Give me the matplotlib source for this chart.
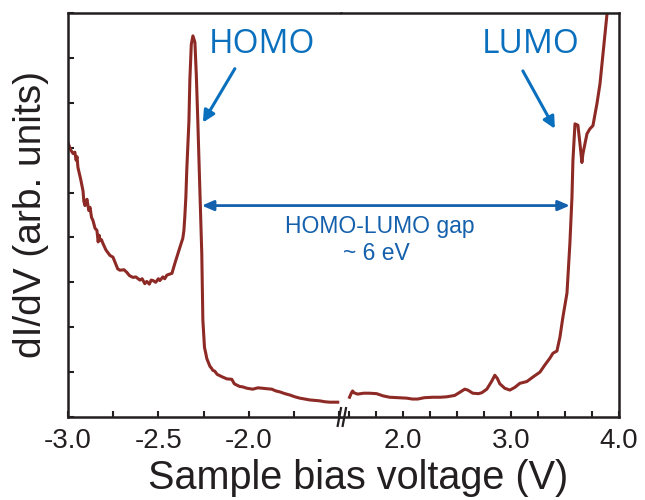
import numpy as np
import matplotlib
matplotlib.use("Agg")
import matplotlib.pyplot as plt
from matplotlib.ticker import MultipleLocator, NullFormatter

# dI/dV spectrum, negative bias branch (V, arb. units)
v_neg = [-3.000, -2.985, -2.972, -2.962, -2.955, -2.950, -2.945, -2.930, -2.917,
         -2.912, -2.906, -2.895, -2.885, -2.878, -2.870, -2.862, -2.850, -2.840,
         -2.833, -2.828, -2.823, -2.815, -2.807, -2.790, -2.768, -2.751, -2.740,
         -2.725, -2.713, -2.690, -2.674, -2.660, -2.641, -2.625, -2.602, -2.590,
         -2.575, -2.564, -2.550, -2.540, -2.530, -2.515, -2.500, -2.492, -2.475,
         -2.465, -2.453, -2.440, -2.425, -2.409, -2.395, -2.381, -2.365, -2.359,
         -2.354, -2.348, -2.343, -2.331, -2.326, -2.318, -2.309, -2.298, -2.290,
         -2.282, -2.271, -2.260, -2.254, -2.245, -2.238, -2.232, -2.215, -2.205,
         -2.199, -2.188, -2.175, -2.160, -2.145, -2.133, -2.122, -2.094, -2.080,
         -2.066, -2.050, -2.033, -2.010, -1.978, -1.950, -1.923, -1.900, -1.873,
         -1.850, -1.829, -1.800, -1.773, -1.745, -1.718, -1.690, -1.663, -1.635,
         -1.608, -1.580, -1.552, -1.508]
g_neg = [6.11, 5.95, 5.87, 5.90, 5.72, 5.80, 5.56, 5.30, 5.04,
         4.80, 4.71, 4.85, 4.60, 4.67, 4.45, 4.38, 4.20, 4.16,
         3.90, 4.05, 3.93, 3.95, 3.87, 3.72, 3.60, 3.56, 3.45,
         3.30, 3.27, 3.28, 3.22, 3.15, 3.11, 3.12, 3.05, 3.08,
         2.97, 3.02, 2.96, 3.05, 3.04, 3.00, 3.08, 3.04, 3.12,
         3.08, 3.16, 3.18, 3.20, 3.42, 3.60, 3.78, 3.98, 4.15,
         4.45, 4.90, 5.50, 6.60, 7.50, 8.30, 8.49, 8.35, 7.60,
         6.60, 5.11, 3.64, 2.16, 1.55, 1.42, 1.30, 1.13, 1.08,
         1.04, 1.02, 0.95, 0.92, 0.89, 0.87, 0.85, 0.84, 0.74,
         0.71, 0.68, 0.67, 0.64, 0.62, 0.65, 0.64, 0.63, 0.62,
         0.58, 0.56, 0.52, 0.49, 0.45, 0.42, 0.40, 0.38, 0.37,
         0.36, 0.34, 0.33, 0.33]

# positive bias branch
v_pos = [1.509, 1.525, 1.537, 1.550, 1.583, 1.640, 1.694, 1.759, 1.820, 1.880,
         1.960, 2.037, 2.090, 2.139, 2.200, 2.278, 2.350, 2.407, 2.481, 2.528,
         2.574, 2.602, 2.648, 2.700, 2.731, 2.778, 2.824, 2.852, 2.875, 2.898,
         2.944, 2.991, 3.037, 3.083, 3.148, 3.204, 3.269, 3.315, 3.361, 3.389,
         3.426, 3.454, 3.481, 3.519, 3.546, 3.565, 3.574, 3.593, 3.620, 3.639,
         3.657, 3.667, 3.704, 3.731, 3.759, 3.796, 3.824, 3.852, 3.889, 3.920]
g_pos = [0.44, 0.53, 0.58, 0.54, 0.51, 0.53, 0.53, 0.52, 0.47, 0.44,
         0.43, 0.42, 0.40, 0.40, 0.43, 0.44, 0.44, 0.45, 0.48, 0.55,
         0.62, 0.60, 0.53, 0.52, 0.54, 0.62, 0.80, 0.93, 0.86, 0.74,
         0.64, 0.60, 0.66, 0.75, 0.79, 0.89, 1.00, 1.16, 1.31, 1.42,
         1.47, 1.78, 2.22, 2.76, 3.87, 4.89, 5.71, 6.53, 6.50, 6.09,
         5.67, 5.87, 6.31, 6.42, 6.49, 6.98, 7.42, 8.09, 8.98, 9.60]

homo_v = -2.26
lumo_v = 3.546

line_col = "#8E2A25"
ax_col = "#231F20"
blue = "#0A70BE"
blue2 = "#1460AC"

plt.rcParams['font.family'] = ['Liberation Sans', 'DejaVu Sans']

fig = plt.figure(figsize=(6.45, 5.0), dpi=100)
gs = fig.add_gridspec(1, 2, width_ratios=[273, 278], wspace=0,
                      left=0.1054, right=0.9597, top=0.974, bottom=0.166)
ax1 = fig.add_subplot(gs[0])
ax2 = fig.add_subplot(gs[1])

ax1.plot(v_neg, g_neg, color=line_col, lw=2.2, solid_joinstyle='round')
ax2.plot(v_pos, g_pos, color=line_col, lw=2.2, solid_joinstyle='round')

ax1.set_xlim(-3.0, -1.49)
ax2.set_xlim(1.43, 4.0)
for ax in (ax1, ax2):
    ax.set_ylim(0, 9)
    for s in ax.spines.values():
        s.set_linewidth(1.8)
        s.set_color(ax_col)
    ax.tick_params(direction='in', colors=ax_col, labelsize=20, pad=8,
                   width=1.5, length=4)
    ax.tick_params(which='minor', direction='in', width=1.5, length=4, colors=ax_col)
    ax.xaxis.set_minor_locator(MultipleLocator(0.25))

ax1.spines['right'].set_visible(False)
ax2.spines['left'].set_visible(False)
ax1.set_xticks([-3.0, -2.5, -2.0])
ax1.set_xticklabels(["-3.0", "-2.5", "-2.0"])
ax2.set_xticks([2.0, 3.0, 4.0])
ax2.set_xticklabels(["2.0", "3.0", "4.0"])
ax1.yaxis.set_major_locator(MultipleLocator(1))
ax1.yaxis.set_major_formatter(NullFormatter())
ax2.tick_params(axis='y', left=False, labelleft=False)

# break marks
for dx in (-0.012, 0.006):
    ax2.plot([dx, dx + 0.012], [-0.022, 0.022], transform=ax2.transAxes,
             color=ax_col, lw=1.6, clip_on=False, zorder=5)

ax1.set_ylabel("dI/dV (arb. units)", fontsize=28, labelpad=6)
fig.text(0.555, 0.022, "Sample bias voltage (V)", fontsize=28.5,
         ha='center', va='baseline', color=ax_col)
ax1.yaxis.label.set_color(ax_col)

# HOMO / LUMO labels
ax1.text(-1.93, 8.29, "HOMO", fontsize=24, color=blue, ha='center', va='center',
         family=['Open Sans', 'DejaVu Sans'])
ax1.annotate("", xy=(-2.254, 6.56), xytext=(-2.077, 7.76),
             arrowprops=dict(arrowstyle='-|>,head_length=0.7,head_width=0.35',
                             color=blue, lw=2.2, shrinkA=0, shrinkB=0))
ax2.text(3.185, 8.29, "LUMO", fontsize=24, color=blue, ha='center', va='center',
         family=['Open Sans', 'DejaVu Sans'])
ax2.annotate("", xy=(3.407, 6.42), xytext=(3.111, 7.71),
             arrowprops=dict(arrowstyle='-|>,head_length=0.7,head_width=0.35',
                             color=blue, lw=2.2, shrinkA=0, shrinkB=0))

# gap arrow spanning both panels
ax2.annotate("", xy=(lumo_v, 4.71), xycoords=ax2.transData,
             xytext=(homo_v, 4.71), textcoords=ax1.transData,
             arrowprops=dict(arrowstyle='<|-|>,head_length=0.7,head_width=0.3',
                             color=blue2, lw=2.0, shrinkA=0, shrinkB=0))
fig.text(380 / 645, 1 - 227 / 500, "HOMO-LUMO gap", fontsize=16.5, color=blue2,
         ha='center', va='center')
fig.text(376 / 645, 1 - 254 / 500, "~ 6 eV", fontsize=16.5, color=blue2,
         ha='center', va='center')

fig.savefig("out.png", dpi=100)
